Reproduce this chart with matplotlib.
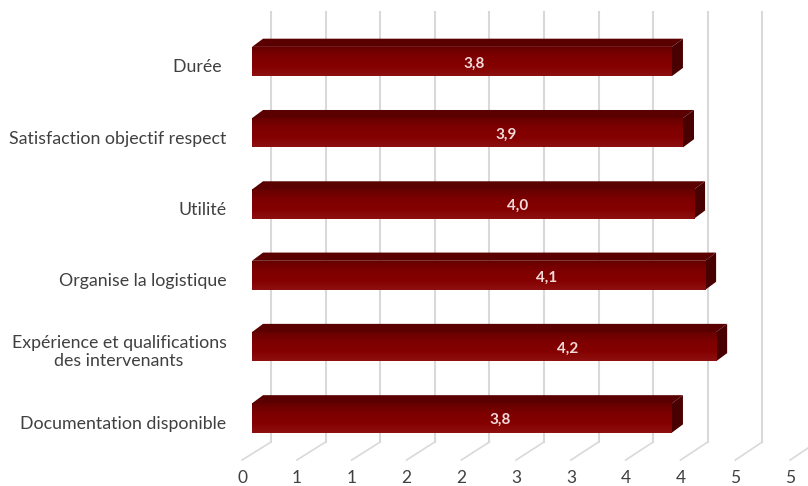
import numpy as np
import matplotlib
matplotlib.use("Agg")
import matplotlib.pyplot as plt
from matplotlib.patches import Polygon
from matplotlib.colors import LinearSegmentedColormap

# survey scores, top row first
categories = ["Durée ", "Satisfaction objectif respect", "Utilité",
              "Organise la logistique",
              "Expérience et qualifications\ndes intervenants",
              "Documentation disponible"]
scores = [3.8, 3.9, 4.0, 4.1, 4.2, 3.8]
tick_values = [0, 0.5, 1, 1.5, 2, 2.5, 3, 3.5, 4, 4.5, 5]
tick_labels = ["0", "1", "1", "2", "2", "3", "3", "4", "4", "5", "5"]

# where each value label sits along its bar (fraction of bar length)
label_pos = [0.53, 0.59, 0.60, 0.65, 0.68, 0.59]

FRONT = "#7d0000"
TOP = "#5a0000"
SIDE = "#480000"
GRID = "#d9d9d9"
TXT = "#404040"

BAR_H = 0.41      # front face height (rows)
DX, DY = 0.10, -0.115   # bar depth offset
WALL_DX = 0.172   # back wall offset from front plane

plt.rcParams['font.family'] = ['Lato', 'DejaVu Sans']

fig = plt.figure(figsize=(8.08, 4.86), dpi=100)
ax = fig.add_axes([0, 0, 1, 1])
ax.set_xlim(-2.2805, 5.0317)
ax.set_ylim(5.954, -0.8626)
ax.axis('off')

grid_top, grid_bot, floor_front = -0.694, 5.337, 5.59

# back wall gridlines and floor diagonals
for v, lab in zip(tick_values, tick_labels):
    xb = 0.988 * v + WALL_DX
    xf = 0.992 * v - 0.09
    ax.plot([xb, xb], [grid_top, grid_bot], color=GRID, lw=1.5, zorder=1)
    ax.plot([xb, xf], [grid_bot, floor_front], color=GRID, lw=1.2, zorder=1)
    ax.text(xf, 5.84, lab, ha='center', va='center', fontsize=12.5, color=TXT)

grad_cmap = LinearSegmentedColormap.from_list("face", ["#650000", FRONT, "#840000", "#8e1010"])
grad = np.linspace(0, 1, 64).reshape(-1, 1)

for i, (cat, val) in enumerate(zip(categories, scores)):
    y0 = i - BAR_H / 2
    y1 = i + BAR_H / 2
    bar = ax.barh(i, val, height=BAR_H, color=FRONT, zorder=3)[0]
    im = ax.imshow(grad, extent=[0, val, y1, y0], cmap=grad_cmap, aspect='auto',
                   zorder=3.1, interpolation='bilinear')
    im.set_clip_path(bar)
    top = Polygon([(0, y0), (val, y0), (val + DX, y0 + DY), (DX, y0 + DY)],
                  closed=True, facecolor=TOP, edgecolor='none', zorder=3)
    side = Polygon([(val, y0), (val + DX, y0 + DY), (val + DX, y1 + DY), (val, y1)],
                   closed=True, facecolor=SIDE, edgecolor='none', zorder=3)
    ax.add_patch(top)
    ax.add_patch(side)
    ax.text(val * label_pos[i], i + 0.03, f"{val:.1f}".replace(".", ","),
            ha='center', va='center', fontsize=11, fontweight='bold',
            color="#f2dada", zorder=5)
    ax.text(-0.23, i + 0.08, cat, ha='right', va='center', multialignment='center',
            fontsize=12.8, color=TXT, linespacing=1.15)

ax.set_xlim(-2.2805, 5.0317)
ax.set_ylim(5.954, -0.8626)

fig.savefig("out.png", dpi=100)
